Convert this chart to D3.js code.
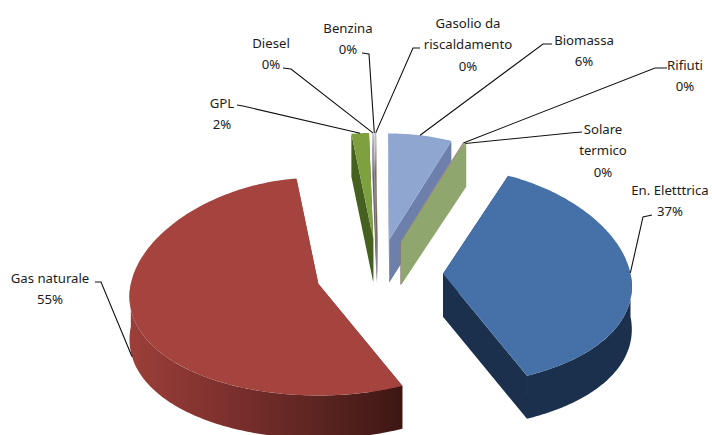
<!DOCTYPE html>
<html>
<head>
<meta charset="utf-8">
<script src="https://cdn.jsdelivr.net/npm/d3@7"></script>
<style>
  html, body { margin: 0; padding: 0; background: #fff; }
  text { font-family: "Noto Sans", sans-serif; font-size: 13.2px; fill: #1c1c1c; text-anchor: middle; dominant-baseline: central; }
</style>
</head>
<body>
<svg id="chart" width="712" height="435"></svg>
<script>
// Energy sources, clockwise from the first slice; the "0%" entries are rounded shares.
const categories = ["En. Eletttrica", "Gas naturale", "GPL", "Diesel", "Benzina",
                    "Gasolio da|riscaldamento", "Biomassa", "Rifiuti", "Solare|termico"];
const shares = [37.0, 54.5, 1.7, 0.1, 0.1, 0.1, 6.2, 0.1, 0.2];

// Per-slice styling
const topColors  = ["#4671a8", "#a5443f", "#7ea03f", "#a9a3b5", "#c9ced2", "#b8a596", "#8ea6d0", "#b59c94", "#93a971"];
const sideColors = ["#1b304c", "#5c2522", "#45601f", "#6b6478", "#8a8f94", "#6e5a4a", "#6d80ab", "#8c7a72", "#8fa66f"];

// Pie layout constants
const cx = 378, cy = 274, rx = 187.5, ry = 109, depth = 43;
const firstAngle = 23 * Math.PI / 180;
const explode = [65, 62, 60, 60, 60, 60, 60, 60, 60];
// Foreshortening of the far side of the tilted pie
const perspectiveX = 0.12, perspectiveY = 0.025;

// Label centres, line height and leader elbows
const labelX = [670, 50, 222, 271, 348, 468, 584, 685, 603];
const labelY = [190, 278, 103, 43, 28, 23, 40, 65, 129];
const lineGap = 21.3;
const leaderStart = [[652, 215], [95, 282], [237, 105], [283, 68], [362, 53], [420, 48], [552, 44], [667, 68], [582, 132]];
const leaderElbow = [[643, 217], [101, 282], [243, 106], [291, 69], [369, 54], [413, 48], [543, 44], [655, 68], [570, 133]];
// Leaders that land on the lower rim rather than the upper one
const leaderOnRim = [0, 1, 0, 0, 0, 0, 0, 0, 0];

// Paint order, farthest slices first
const paintOrder = [2, 3, 4, 5, 6, 7, 8, 0, 1];

const svg = d3.select("#chart");
const defs = svg.append("defs");
const redWall = defs.append("linearGradient")
  .attr("id", "redWall").attr("gradientUnits", "userSpaceOnUse")
  .attr("x1", 130).attr("y1", 0).attr("x2", 405).attr("y2", 0);
[[0, "#9b3f3a"], [0.35, "#7d302d"], [0.7, "#5a2420"], [1, "#3c1613"]]
  .forEach(([o, c]) => redWall.append("stop").attr("offset", o).attr("stop-color", c));

const pie = d3.pie().sort(null).value(d => d)
  .startAngle(firstAngle).endAngle(firstAngle + 2 * Math.PI);
const arcs = pie(shares);
const line = d3.line();
const k = ry / rx;

function apexOf(i) {
  const mid = (arcs[i].startAngle + arcs[i].endAngle) / 2;
  return [cx + explode[i] * Math.sin(mid), cy - explode[i] * k * Math.cos(mid)];
}
function rim(i, a, drop = 0) {
  const [x, y] = apexOf(i);
  const c = Math.cos(a);
  return [x + rx * Math.sin(a) * (1 - perspectiveX * c),
          y - ry * c * (1 - perspectiveY * c) + drop];
}
function sweep(a0, a1) {
  const n = Math.max(4, Math.ceil((a1 - a0) * 60));
  return d3.range(n + 1).map(t => a0 + (a1 - a0) * t / n);
}

paintOrder.forEach(i => {
  const d = arcs[i], apex = apexOf(i);
  const g = svg.append("g");

  // Cut faces on both radial edges
  [d.startAngle, d.endAngle].forEach(a => {
    const e = rim(i, a);
    g.append("path")
      .attr("d", line([apex, e, [e[0], e[1] + depth], [apex[0], apex[1] + depth]]) + "Z")
      .attr("fill", i === 1 ? "#7d302d" : sideColors[i]);
  });

  // Outer wall, only the part that faces the viewer
  const TAU = 2 * Math.PI;
  [0, TAU].forEach(shift => {
    const a0 = Math.max(d.startAngle, Math.PI / 2 + shift);
    const a1 = Math.min(d.endAngle, 1.5 * Math.PI + shift);
    if (a1 <= a0) return;
    const steps = sweep(a0, a1);
    const upper = steps.map(a => rim(i, a));
    const lower = steps.slice().reverse().map(a => rim(i, a, depth));
    g.append("path")
      .attr("d", line(upper.concat(lower)) + "Z")
      .attr("fill", i === 1 ? "url(#redWall)" : sideColors[i]);
  });

  // Top surface
  const outline = [apex].concat(sweep(d.startAngle, d.endAngle).map(a => rim(i, a)));
  g.append("path").attr("d", line(outline) + "Z").attr("fill", topColors[i]);
});

// Leader lines and labels
const pct = d3.format(".0f");
categories.forEach((name, i) => {
  const mid = (arcs[i].startAngle + arcs[i].endAngle) / 2;
  const tip = rim(i, mid, leaderOnRim[i] ? depth : 0);
  svg.append("path")
    .attr("d", line([leaderStart[i], leaderElbow[i], tip]))
    .attr("fill", "none").attr("stroke", "#111").attr("stroke-width", 1.1);

  const rows = name.split("|").concat(pct(shares[i]) + "%");
  svg.append("g").selectAll("text").data(rows).join("text")
    .attr("x", labelX[i])
    .attr("y", (_, r) => labelY[i] + r * lineGap)
    .text(t => t);
});
</script>
</body>
</html>
